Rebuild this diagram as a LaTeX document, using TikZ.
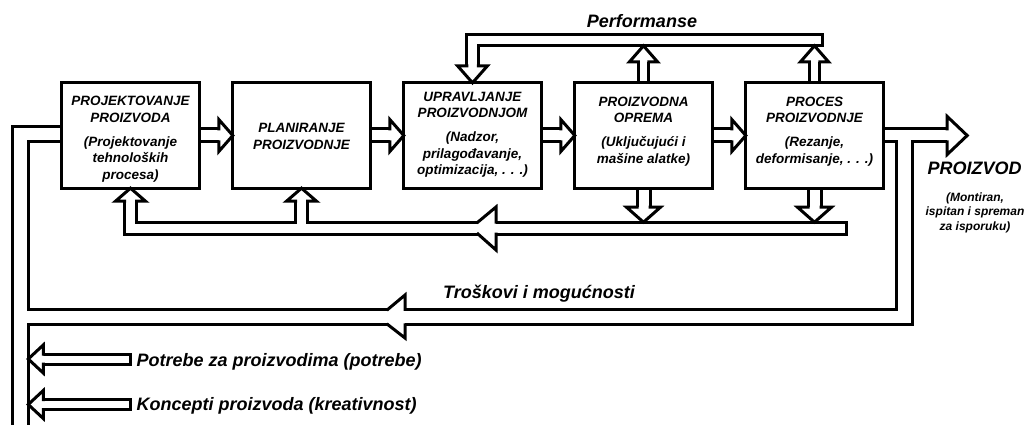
\documentclass[tikz,border=0pt]{standalone}
\usepackage{fontspec}
\setmainfont{Liberation Sans}
\usetikzlibrary{calc}
\newcommand\bhead[5]{%
 \begin{scope}[shift={(#1)},rotate=#2]
  \fill[white] (0,0) -- (-#3,#4) -- (-#3,-#4) -- cycle;
  \draw[headline] (-#3,#5) -- (-#3,#4) -- (0,0) -- (-#3,-#4) -- (-#3,-#5);
 \end{scope}}
\newcommand\allpipes[1]{%
  \draw[#1=13pt] (b1.east) -- (h12);
  \draw[#1=13pt] (b2.east) -- (h23);
  \draw[#1=13pt] (b3.east) -- (h34);
  \draw[#1=13pt] (b4.east) -- (h45);
  \draw[#1=13pt] (b5.east) -- (pbase);
  \draw[#1=11.5pt] (t3) -- (t3 |- tend) -- (tend);
  \draw[#1=10.5pt] (b4.north) -- (u4);
  \draw[#1=10.5pt] (b5.north) -- (u5);
  \draw[#1=12pt] (d1) -- (d1 |- dend) -- (dend);
  \draw[#1=12pt] (d2) -- (d2 |- dend);
  \draw[#1=13pt] (b4.south) -- (s4);
  \draw[#1=13pt] (b5.south) -- (s5);
  \draw[#1=15.5pt] (br) -- (br |- tl) -- (tl);
  \draw[#1=15.5pt] (lin) -- (lin -| tl) -- (lbot);
  \draw[#1=10pt] (pe) -- (pb);
  \draw[#1=10pt] (ke) -- (kb);
}
\begin{document}
\begin{tikzpicture}[x=1pt,y=-1pt,
  box/.style={draw, fill=white, line width=3pt, minimum width=137pt, minimum height=105pt, inner sep=0pt},
  boxtext/.style={anchor=north, align=center, inner sep=0pt, font=\bfseries\itshape\fontsize{13.5}{16.5}\selectfont},
  pipeblk/.style={line width=#1+3pt, line cap=butt, line join=miter, black},
  pipewht/.style={line width=#1-3pt, line cap=butt, line join=miter, white},
  headline/.style={line width=3pt, line join=miter, line cap=rect},
  wall/.style={line width=3pt, line cap=rect},
  lbl/.style={inner sep=0pt, font=\bfseries\itshape\fontsize{18}{21}\selectfont},
  small/.style={inner sep=0pt, align=center, font=\bfseries\itshape\fontsize{12}{14.5}\selectfont}]
\useasboundingbox (0,0) rectangle (1034,425);
\clip (0,0) rectangle (1034,425);
% boxes (positions first, drawn later)
\path (130.5,135.5) node[minimum width=137pt, minimum height=105pt, inner sep=0pt] (b1) {};
\path (301.5,135.5) node[minimum width=137pt, minimum height=105pt, inner sep=0pt] (b2) {};
\path (472.5,135.5) node[minimum width=137pt, minimum height=105pt, inner sep=0pt] (b3) {};
\path (643.5,135.5) node[minimum width=137pt, minimum height=105pt, inner sep=0pt] (b4) {};
\path (814.5,135.5) node[minimum width=137pt, minimum height=105pt, inner sep=0pt] (b5) {};
% coordinates
\coordinate (h12) at ($(b2.west)+(-14,0)$);
\coordinate (h23) at ($(b3.west)+(-14,0)$);
\coordinate (h34) at ($(b4.west)+(-14,0)$);
\coordinate (h45) at ($(b5.west)+(-14,0)$);
\coordinate (pbase) at ($(b5.east)+(64,0)$);
\coordinate (ptip) at ($(b5.east)+(84,0)$);
\coordinate (t3) at ($(b3.north)+(0,-17)$);
\coordinate (tend) at (822,40);
\coordinate (u4) at ($(b4.north)+(0,-21)$);
\coordinate (u5) at ($(b5.north)+(0,-21)$);
\coordinate (u4t) at ($(b4.north)+(0,-37)$);
\coordinate (u5t) at ($(b5.north)+(0,-37)$);
\coordinate (d1) at ($(b1.south)+(0,13)$);
\coordinate (d2) at ($(b2.south)+(0,13)$);
\coordinate (dend) at (846,228);
\coordinate (s4) at ($(b4.south)+(0,19)$);
\coordinate (s5) at ($(b5.south)+(0,19)$);
\coordinate (s4t) at ($(b4.south)+(0,34)$);
\coordinate (s5t) at ($(b5.south)+(0,34)$);
\coordinate (br) at ($(b5.east)+(21.5,0)$);
\coordinate (tl) at (20.5,317);
\coordinate (lin) at ($(b1.west)+(0,-1.5)$);
\coordinate (lbot) at (20.5,440);
\coordinate (pe) at (130,359);
\coordinate (pb) at (43,359);
\coordinate (ptp) at (28.25,359);
\coordinate (ke) at (130,404.5);
\coordinate (kb) at (43,404.5);
\coordinate (ktp) at (28.25,404.5);
% pipes: black outlines then white interiors
\allpipes{pipeblk}
\allpipes{pipewht}
% closed ends
\draw[wall] ($(tend)+(0,-5.75)$) -- ($(tend)+(0,5.75)$);
\draw[wall] ($(dend)+(0,-6)$) -- ($(dend)+(0,6)$);
\draw[wall] ($(pe)+(0,-5)$) -- ($(pe)+(0,5)$);
\draw[wall] ($(ke)+(0,-5)$) -- ($(ke)+(0,5)$);
% chevron heads inside the bands
\fill[white] (478,220) rectangle (496,236);
\draw[headline] (478,222) -- (496,207) -- (496,222);
\draw[headline] (478,234) -- (496,250) -- (496,234);
\fill[white] (388,307) rectangle (405,327);
\draw[headline] (388,309.25) -- (405,295) -- (405,309.25);
\draw[headline] (388,324.75) -- (405,338) -- (405,324.75);
% boxes
\foreach \b in {b1,b2,b3,b4,b5}{\draw[line width=3pt, fill=white] (\b.north west) rectangle (\b.south east);}
% heads
\bhead{b2.west}{0}{14}{16}{6.5}
\bhead{b3.west}{0}{14}{16}{6.5}
\bhead{b4.west}{0}{14}{16}{6.5}
\bhead{b5.west}{0}{14}{16}{6.5}
\bhead{ptip}{0}{20}{19}{6.5}
\bhead{b3.north}{-90}{17}{15}{5.75}
\bhead{u4t}{90}{16}{14}{5.25}
\bhead{u5t}{90}{16}{14}{5.25}
\bhead{b1.south}{90}{13}{15}{6}
\bhead{b2.south}{90}{13}{15}{6}
\bhead{s4t}{-90}{15}{17}{6.5}
\bhead{s5t}{-90}{15}{17}{6.5}
\bhead{ptp}{180}{15}{14}{5}
\bhead{ktp}{180}{15}{14}{5}
% texts
\node[boxtext] (t1) at (130.5,96.1) {PROJEKTOVANJE\\PROIZVODA\\[7.5pt](Projektovanje\\tehnoloških\\procesa)};
\node[boxtext] (t2) at (301.5,123.4) {PLANIRANJE\\PROIZVODNJE};
\node[boxtext] (t3txt) at (472.5,91.8) {UPRAVLJANJE\\PROIZVODNJOM\\[7.5pt](Nadzor,\\prilagođavanje,\\optimizacija, . . .)};
\node[boxtext] (t4) at (643.5,96.8) {PROIZVODNA\\OPREMA\\[7.5pt](Uključujući i\\mašine alatke)};
\node[boxtext] (t5) at (814.5,96.8) {PROCES\\PROIZVODNJE\\[7.5pt](Rezanje,\\deformisanje, . . .)};
\node[lbl, anchor=base] (perf) at (642,28) {Performanse};
\node[lbl, anchor=base] (proizvod) at (974.5,175) {PROIZVOD};
\node[small, anchor=north] (mont) at (975,192.2) {(Montiran,\\ispitan i spreman\\za isporuku)};
\node[lbl, anchor=base] (tros) at (539,298) {Troškovi i mogućnosti};
\node[lbl, anchor=base west] (potr) at (136.5,366) {Potrebe za proizvodima (potrebe)};
\node[lbl, anchor=base west] (konc) at (136.5,410.5) {Koncepti proizvoda (kreativnost)};
\end{tikzpicture}
\end{document}
